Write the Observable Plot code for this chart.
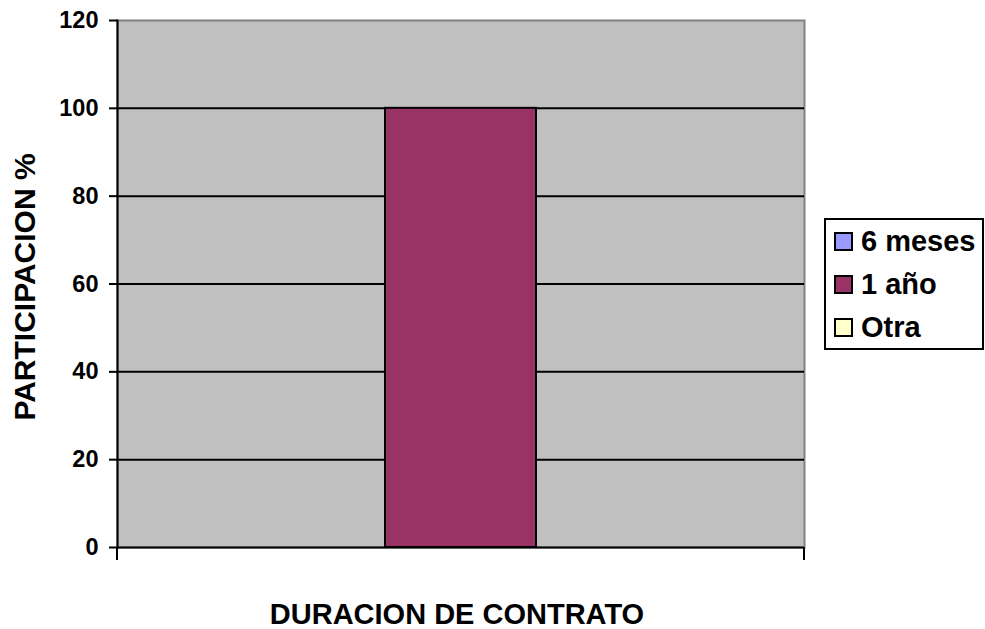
<!DOCTYPE html>
<html>
<head>
<meta charset="utf-8">
<script src="https://cdn.jsdelivr.net/npm/d3@7"></script>
<script src="https://cdn.jsdelivr.net/npm/@observablehq/plot@0.6"></script>
<style>
  html, body { margin: 0; padding: 0; background: #fff; }
  body { font-family: "Liberation Sans", Arial, sans-serif; }
  #wrap { position: relative; width: 985px; height: 629px; overflow: hidden; }
  #legend {
    position: absolute; left: 824px; top: 218px;
    width: 156px; height: 128px;
    border: 2px solid #000; background: #fff;
  }
  .item { height: 43px; display: flex; align-items: center; padding-left: 8px; }
  .sw { width: 15px; height: 15px; border: 2px solid #000; margin-right: 8px; flex: none; }
  .lbl { font-size: 29px; font-weight: bold; color: #000; white-space: nowrap; line-height: 1; }
</style>
</head>
<body>
<div id="wrap"></div>
<script>
// ---- data ----
const categories = ["DURACION DE CONTRATO"];
const series = ["6 meses", "1 año", "Otra"];
const values = [0, 100, 0];
const colors = ["#9999FF", "#993366", "#FFFFCC"];
const yTicks = [0, 20, 40, 60, 80, 100, 120];
const yTitle = "PARTICIPACION %";
const xTitle = categories[0];

const data = series.map((s, i) => ({serie: s, valor: values[i]}));

function edgeTicks(index, scales, vals, dimensions) {
  const {width, height, marginLeft, marginRight, marginBottom} = dimensions;
  const g = d3.create("svg:g").attr("stroke", "#000").attr("stroke-width", 2);
  const y0 = height - marginBottom;
  for (const x of [marginLeft, width - marginRight]) {
    g.append("line").attr("x1", x).attr("x2", x).attr("y1", y0).attr("y2", y0 + 13);
  }
  return g.node();
}

const chart = Plot.plot({
  width: 985,
  height: 629,
  marginLeft: 117,
  marginRight: 181,
  marginTop: 20,
  marginBottom: 82,
  style: {
    fontFamily: "'Liberation Sans', Arial, sans-serif",
    fontWeight: "bold",
    fontSize: "23.5px",
    color: "#000",
    background: "transparent",
    overflow: "visible"
  },
  x: {domain: series, paddingInner: 0, paddingOuter: 0.76, axis: null},
  y: {domain: [0, 120], ticks: yTicks},
  color: {domain: series, range: colors},
  marks: [
    Plot.frame({fill: "#C0C0C0", stroke: "#808080", strokeWidth: 2}),
    Plot.gridY(yTicks.filter(d => d > 0 && d < 120), {stroke: "#000", strokeOpacity: 1, strokeWidth: 2}),
    Plot.barY(data, {x: "serie", y: "valor", fill: "serie", stroke: "#000", strokeWidth: 2}),
    Plot.axisY({ticks: yTicks, tickSize: 8, tickPadding: 11, strokeWidth: 2, label: null, fontSize: 23.5}),
    Plot.ruleY([0], {stroke: "#000", strokeWidth: 2}),
    Plot.frame({anchor: "left", stroke: "#000", strokeWidth: 2}),
    edgeTicks,
    Plot.text([yTitle], {frameAnchor: "left", textAnchor: "middle", lineAnchor: "middle", rotate: -90, dx: -92, dy: 3, fontSize: 30, fontWeight: "bold", fill: "#000"}),
    Plot.text([xTitle], {frameAnchor: "bottom", textAnchor: "middle", lineAnchor: "middle", dy: 67, dx: -4, fontSize: 29, fontWeight: "bold", fill: "#000"})
  ]
});

const wrap = document.getElementById("wrap");
wrap.appendChild(chart);

const legend = document.createElement("div");
legend.id = "legend";
series.forEach((s, i) => {
  const item = document.createElement("div");
  item.className = "item";
  const sw = document.createElement("span");
  sw.className = "sw";
  sw.style.background = colors[i];
  const lbl = document.createElement("span");
  lbl.className = "lbl";
  lbl.textContent = s;
  item.appendChild(sw);
  item.appendChild(lbl);
  legend.appendChild(item);
});
wrap.appendChild(legend);
</script>
</body>
</html>
